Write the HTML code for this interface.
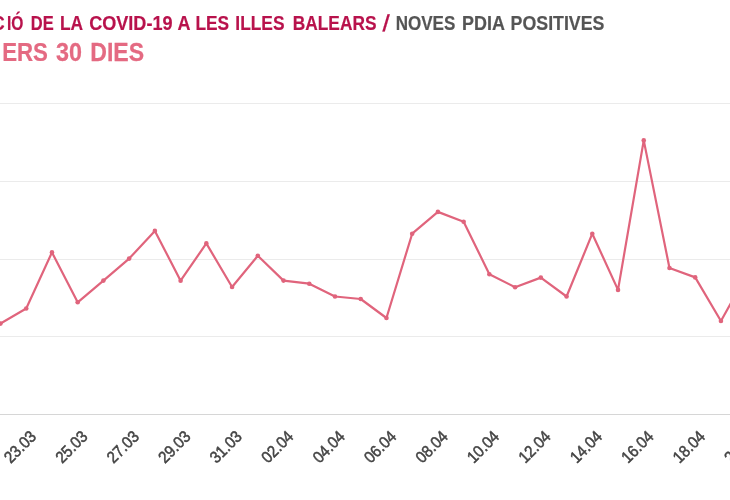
<!DOCTYPE html>
<html><head><meta charset="utf-8">
<style>
html,body{margin:0;padding:0;background:#fff;}
body{width:730px;height:500px;overflow:hidden;position:relative;}
svg{position:absolute;left:0;top:0;}
text{font-family:"Liberation Sans",Arial,sans-serif;}
.t1{font-weight:bold;font-size:20px;fill:#b8124c;stroke:#b8124c;stroke-width:0.2px;}
.t1.g{fill:#555555;stroke:#555555;}
.t2{font-weight:bold;font-size:26px;fill:#e46a82;stroke:#e46a82;stroke-width:0.25px;}
.lb{font-size:15px;fill:#444444;font-weight:normal;stroke:#444444;stroke-width:0.45px;}
</style></head><body>
<svg width="730" height="500" viewBox="0 0 730 500">
<path d="M0 103.5H730M0 181.5H730M0 259.5H730M0 336.5H730" stroke="#ebebeb" stroke-width="1" fill="none"/>
<path d="M0 414.5H730" stroke="#d6d6d6" stroke-width="1" fill="none"/>
<text class="t1" transform="translate(-66.99,30.1) scale(0.86,1)">EVOLUC</text>
<text class="t1" transform="translate(7.02,30.1) scale(0.7772,1)">IÓ</text>
<text class="t1" transform="translate(30.78,30.1) scale(0.8244,1)">DE</text>
<text class="t1" transform="translate(59.93,30.1) scale(0.8685,1)">LA</text>
<text class="t1" transform="translate(89.2,30.1) scale(0.9042,1)">COVID-19</text>
<text class="t1" transform="translate(177.5,30.1) scale(0.9,1)">A</text>
<text class="t1" transform="translate(195.43,30.1) scale(0.8654,1)">LES</text>
<text class="t1" transform="translate(235.33,30.1) scale(0.8675,1)">ILLES</text>
<text class="t1" transform="translate(292.83,30.1) scale(0.8654,1)">BALEARS</text>
<text class="t1" transform="translate(382.3,30.8) skewX(-7.6) scale(1,1.15)">/</text>
<text class="t1 g" transform="translate(395.65,30.1) scale(0.8518,1)">NOVES</text>
<text class="t1 g" transform="translate(462.1,30.1) scale(0.8977,1)">PDIA</text>
<text class="t1 g" transform="translate(510.61,30.1) scale(0.8892,1)">POSITIVES</text>
<text class="t2" transform="translate(-65.06,60.5) scale(0.8557,1)">DARR</text>
<text class="t2" transform="translate(2.14,60.5) scale(0.8557,1)">ERS</text>
<text class="t2" transform="translate(56.1,60.5) scale(0.8995,1)">30</text>
<text class="t2" transform="translate(90.21,60.5) scale(0.8881,1)">DIES</text>
<polyline points="0.5,323.6 26.23,308.5 51.96,252.4 77.69,302.3 103.42,280.6 129.15,258.6 154.88,230.9 180.61,280.7 206.34,243.4 232.07,287.0 257.8,255.8 283.53,280.6 309.26,283.7 334.99,296.5 360.72,299.0 386.45,318.0 412.18,233.7 437.91,211.9 463.64,221.7 489.37,274.2 515.1,287.2 540.83,277.6 566.56,296.5 592.29,233.7 618.02,289.9 643.75,140.4 669.48,268.0 695.21,277.4 720.94,321.0 746.67,275.0" fill="none" stroke="#e0647c" stroke-width="2.2" stroke-linejoin="round" stroke-linecap="round"/>
<circle cx="0.5" cy="323.6" r="2.3" fill="#e0647c"/><circle cx="26.23" cy="308.5" r="2.3" fill="#e0647c"/><circle cx="51.96" cy="252.4" r="2.3" fill="#e0647c"/><circle cx="77.69" cy="302.3" r="2.3" fill="#e0647c"/><circle cx="103.42" cy="280.6" r="2.3" fill="#e0647c"/><circle cx="129.15" cy="258.6" r="2.3" fill="#e0647c"/><circle cx="154.88" cy="230.9" r="2.3" fill="#e0647c"/><circle cx="180.61" cy="280.7" r="2.3" fill="#e0647c"/><circle cx="206.34" cy="243.4" r="2.3" fill="#e0647c"/><circle cx="232.07" cy="287.0" r="2.3" fill="#e0647c"/><circle cx="257.8" cy="255.8" r="2.3" fill="#e0647c"/><circle cx="283.53" cy="280.6" r="2.3" fill="#e0647c"/><circle cx="309.26" cy="283.7" r="2.3" fill="#e0647c"/><circle cx="334.99" cy="296.5" r="2.3" fill="#e0647c"/><circle cx="360.72" cy="299.0" r="2.3" fill="#e0647c"/><circle cx="386.45" cy="318.0" r="2.3" fill="#e0647c"/><circle cx="412.18" cy="233.7" r="2.3" fill="#e0647c"/><circle cx="437.91" cy="211.9" r="2.3" fill="#e0647c"/><circle cx="463.64" cy="221.7" r="2.3" fill="#e0647c"/><circle cx="489.37" cy="274.2" r="2.3" fill="#e0647c"/><circle cx="515.1" cy="287.2" r="2.3" fill="#e0647c"/><circle cx="540.83" cy="277.6" r="2.3" fill="#e0647c"/><circle cx="566.56" cy="296.5" r="2.3" fill="#e0647c"/><circle cx="592.29" cy="233.7" r="2.3" fill="#e0647c"/><circle cx="618.02" cy="289.9" r="2.3" fill="#e0647c"/><circle cx="643.75" cy="140.4" r="2.3" fill="#e0647c"/><circle cx="669.48" cy="268.0" r="2.3" fill="#e0647c"/><circle cx="695.21" cy="277.4" r="2.3" fill="#e0647c"/><circle cx="720.94" cy="321.0" r="2.3" fill="#e0647c"/><circle cx="746.67" cy="275.0" r="2.3" fill="#e0647c"/>
<g class="lb" text-anchor="end">
<text transform="translate(37.2,437.5) rotate(-45) scale(1.0,1.1)">23.03</text>
<text transform="translate(88.65,437.5) rotate(-45) scale(1.0,1.1)">25.03</text>
<text transform="translate(140.1,437.5) rotate(-45) scale(1.0,1.1)">27.03</text>
<text transform="translate(191.55,437.5) rotate(-45) scale(1.0,1.1)">29.03</text>
<text transform="translate(243.0,437.5) rotate(-45) scale(1.0,1.1)">31.03</text>
<text transform="translate(294.45,437.5) rotate(-45) scale(1.0,1.1)">02.04</text>
<text transform="translate(345.9,437.5) rotate(-45) scale(1.0,1.1)">04.04</text>
<text transform="translate(397.35,437.5) rotate(-45) scale(1.0,1.1)">06.04</text>
<text transform="translate(448.8,437.5) rotate(-45) scale(1.0,1.1)">08.04</text>
<text transform="translate(500.25,437.5) rotate(-45) scale(1.0,1.1)">10.04</text>
<text transform="translate(551.7,437.5) rotate(-45) scale(1.0,1.1)">12.04</text>
<text transform="translate(603.15,437.5) rotate(-45) scale(1.0,1.1)">14.04</text>
<text transform="translate(654.6,437.5) rotate(-45) scale(1.0,1.1)">16.04</text>
<text transform="translate(706.05,437.5) rotate(-45) scale(1.0,1.1)">18.04</text>
<text transform="translate(757.5,437.5) rotate(-45) scale(1.0,1.1)">20.04</text>
</g>
</svg>
</body></html>
